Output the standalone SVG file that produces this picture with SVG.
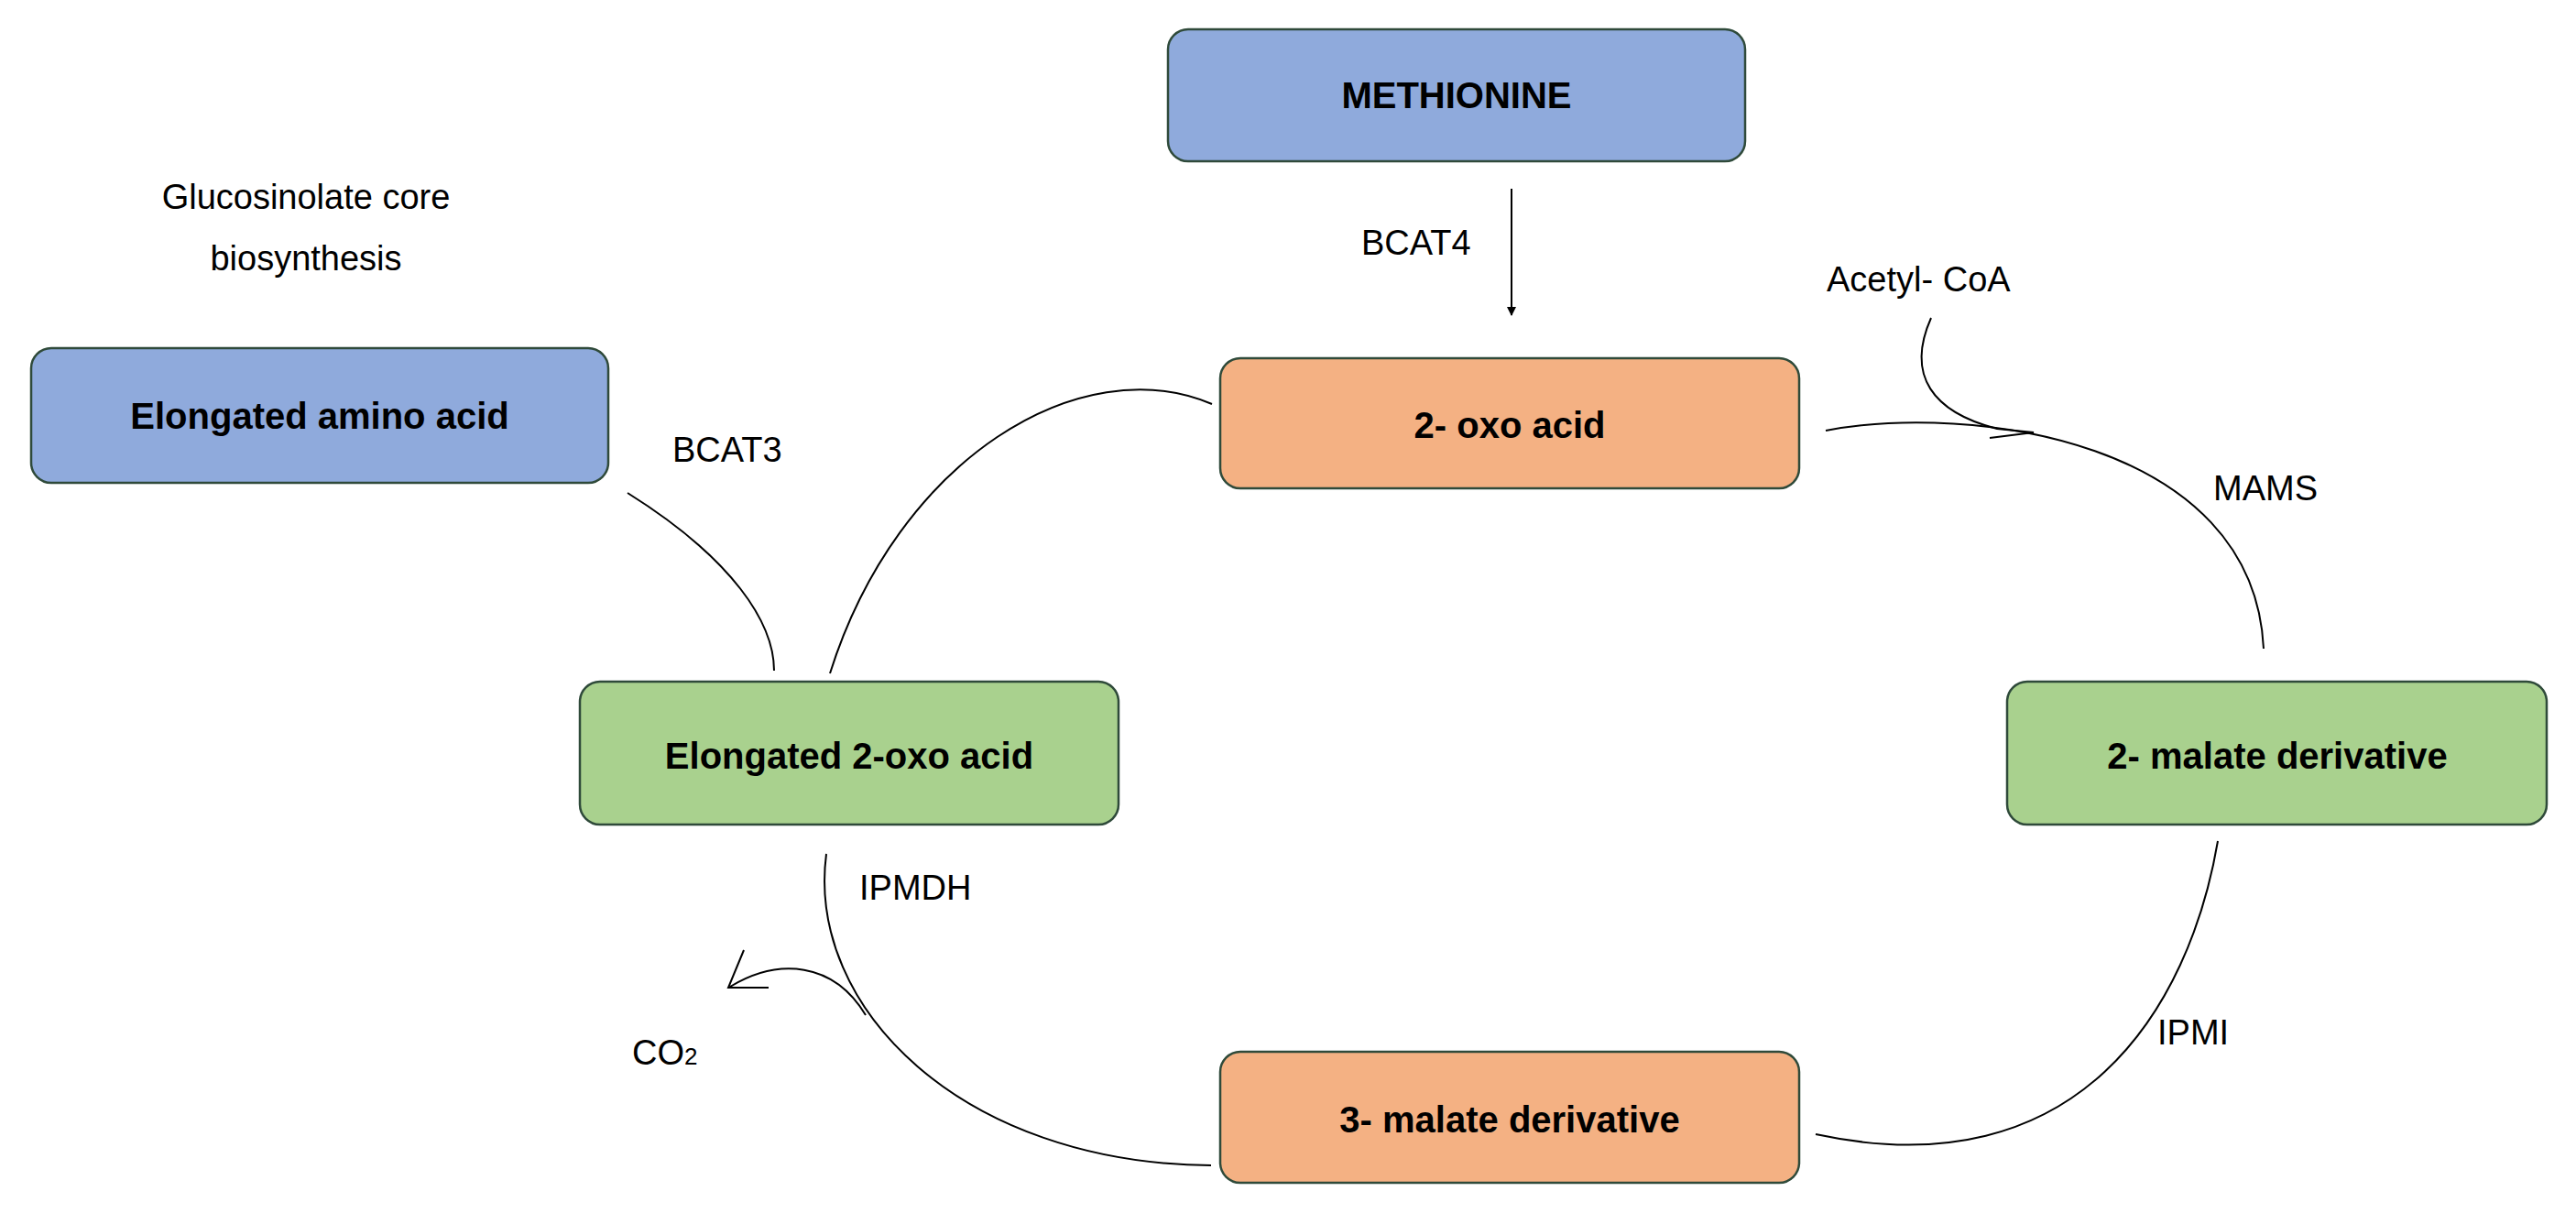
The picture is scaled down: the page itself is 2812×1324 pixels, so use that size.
<svg xmlns="http://www.w3.org/2000/svg" width="2812" height="1324" viewBox="0 0 2812 1324">
<defs>
<marker id="ah" markerWidth="10" markerHeight="10" refX="9" refY="5" orient="auto" markerUnits="userSpaceOnUse" viewBox="0 0 10 10"><path d="M0,0 L10,5 L0,10 z" fill="#000"/></marker>
</defs>
<style>
.box{stroke:#2f4a3a;stroke-width:2.5}
.blue{fill:#8faadc}.orange{fill:#f4b183}.green{fill:#a9d18e}
.bt{font-family:"Liberation Sans",Arial,sans-serif;font-weight:bold;font-size:40px;text-anchor:middle;dominant-baseline:central;fill:#000}
.lt{font-family:"Liberation Sans",Arial,sans-serif;font-size:38px;fill:#000}
.c{fill:none;stroke:#000;stroke-width:2}
</style>
<rect width="2812" height="1324" fill="#fff"/>
<g id="methionine"><rect class="box blue" x="1275" y="32" width="630" height="144" rx="22"/><text class="bt" x="1590" y="104">METHIONINE</text></g>
<g id="oxo"><rect class="box orange" x="1332" y="391" width="632" height="142" rx="22"/><text class="bt" x="1648" y="464">2- oxo acid</text></g>
<g id="elongamino"><rect class="box blue" x="34" y="380" width="630" height="147" rx="22"/><text class="bt" x="349" y="454">Elongated amino acid</text></g>
<g id="elongoxo"><rect class="box green" x="633" y="744" width="588" height="156" rx="22"/><text class="bt" x="927" y="825">Elongated 2-oxo acid</text></g>
<g id="malate2"><rect class="box green" x="2191" y="744" width="589" height="156" rx="22"/><text class="bt" x="2486" y="825">2- malate derivative</text></g>
<g id="malate3"><rect class="box orange" x="1332" y="1148" width="632" height="143" rx="22"/><text class="bt" x="1648" y="1222">3- malate derivative</text></g>
<g id="labels">
<text class="lt" x="334" y="228" text-anchor="middle">Glucosinolate core</text>
<text class="lt" x="334" y="295" text-anchor="middle">biosynthesis</text>
<text class="lt" x="1486" y="278">BCAT4</text>
<text class="lt" x="734" y="504">BCAT3</text>
<text class="lt" x="1994" y="318">Acetyl- CoA</text>
<text class="lt" x="2416" y="546">MAMS</text>
<text class="lt" x="938" y="982">IPMDH</text>
<text class="lt" x="2355" y="1140">IPMI</text>
<text class="lt" x="690" y="1162">CO<tspan font-size="26">2</tspan></text>
</g>
<g id="connectors">
<path class="c" d="M1650,206 L1650,344" marker-end="url(#ah)"/>
<path class="c" d="M1323,441 C1180,380 980,500 906,735"/>
<path class="c" d="M685,538 C800,610 845,680 845,732"/>
<path class="c" d="M1993,470 C2150,440 2460,480 2471,708"/>
<path class="c" d="M2108,347 C2080,410 2110,450 2180,468 L2220,472 L2172,478"/>
<path class="c" d="M2421,918 C2390,1100 2270,1300 1982,1238"/>
<path class="c" d="M902,932 C880,1100 1050,1270 1322,1272"/>
<path class="c" d="M945,1108 C910,1050 850,1045 797,1077 M812,1037 L795,1078 L839,1078"/>
</g>
</svg>
